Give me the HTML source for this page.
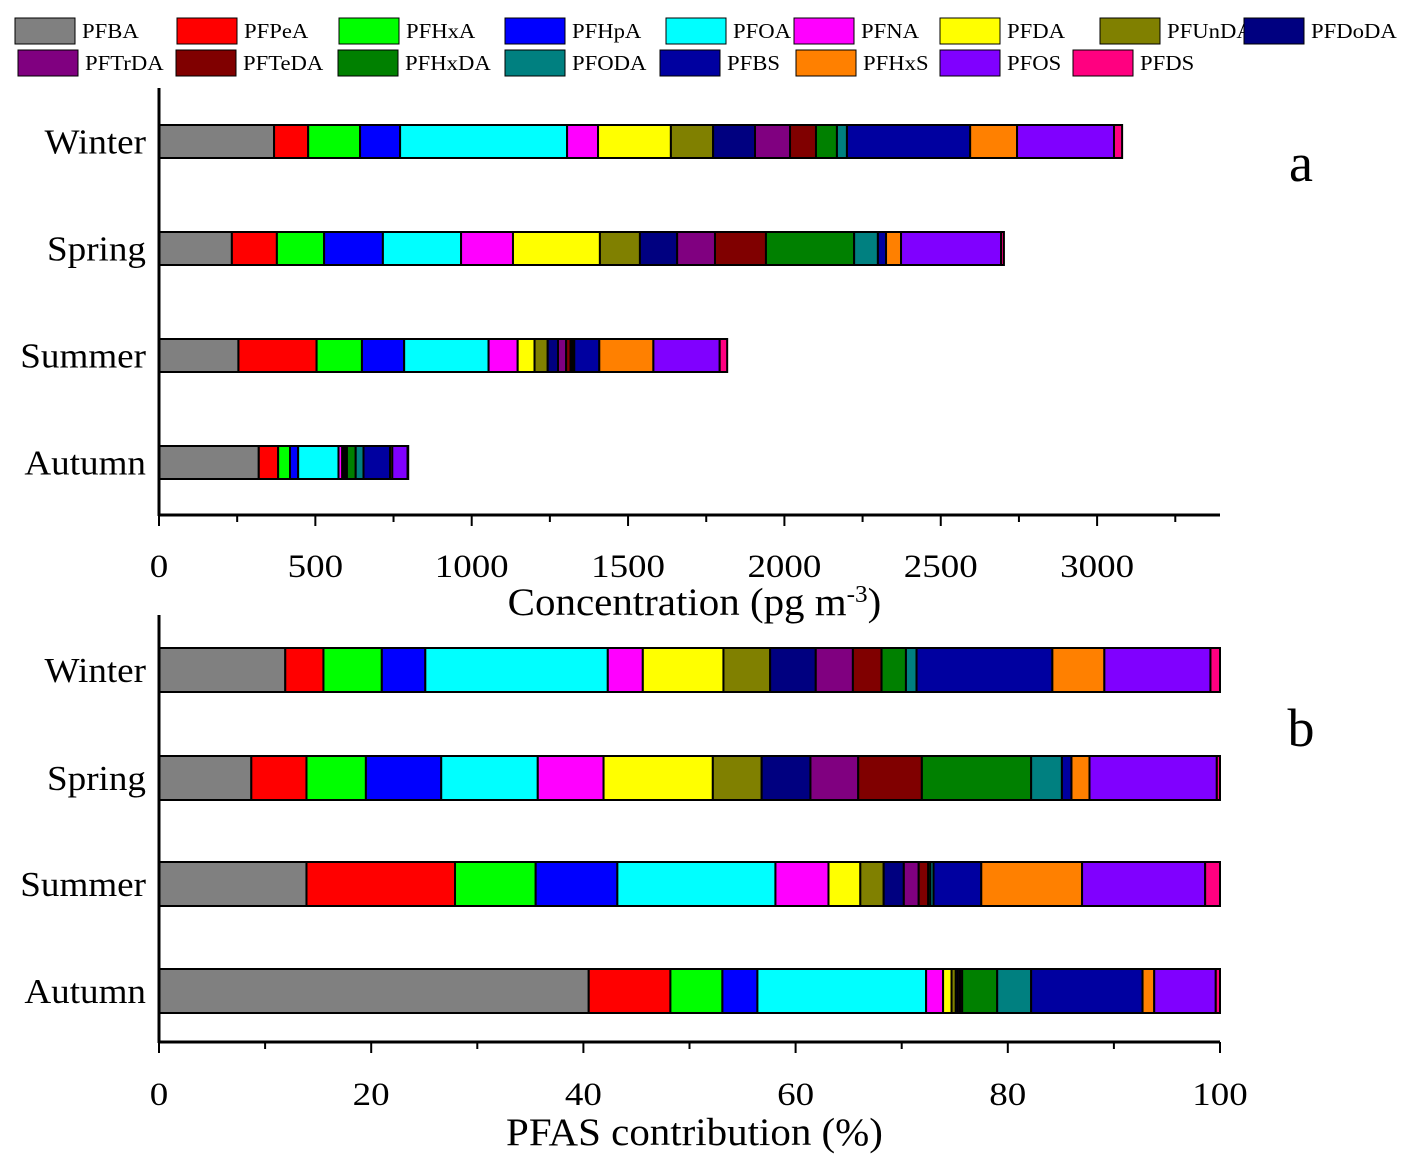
<!DOCTYPE html>
<html><head><meta charset="utf-8"><style>
body{margin:0;background:#fff}
svg text{font-family:"Liberation Serif",serif}
</style></head><body>
<svg id="c" width="1419" height="1169" xmlns="http://www.w3.org/2000/svg"></svg>
<script>
const species=["PFBA","PFPeA","PFHxA","PFHpA","PFOA","PFNA","PFDA","PFUnDA","PFDoDA","PFTrDA","PFTeDA","PFHxDA","PFODA","PFBS","PFHxS","PFOS","PFDS"];
const colors=["#808080","#ff0000","#00ff00","#0000ff","#00ffff","#ff00ff","#ffff00","#808000","#000080","#800080","#800000","#008000","#008080","#0000a0","#ff8000","#8000ff","#ff0080"];
const seasons=["Winter","Spring","Summer","Autumn"];
const concWinter=[368,109,166,128,534,99,233,135,134,112,83,67,32,394,150,310,26];
const concSpring=[233,144,151,188,250,166,278,128,119,121,163,282,76,26,48,320,9];
const concSummer=[254,250,145,135,270,93,54,42,33,26,14,6,6,80,173,212,24];
const concAutumn=[319,62,38,26,129,12,4,3,3,3,2,28,25,85,7,49,2];
const pctWinter=[11.9,3.6,5.5,4.1,17.2,3.3,7.6,4.4,4.3,3.5,2.7,2.3,1.0,12.8,4.9,10.0,0.9];
const pctSpring=[8.7,5.2,5.6,7.1,9.1,6.2,10.3,4.6,4.6,4.5,6.0,10.3,2.9,0.9,1.7,12.0,0.3];
const pctSummer=[13.9,14.0,7.6,7.7,14.9,5.0,3.0,2.2,1.9,1.4,0.9,0.2,0.3,4.5,9.5,11.6,1.4];
const pctAutumn=[40.5,7.7,4.9,3.3,15.9,1.6,0.8,0.4,0.2,0.2,0.2,3.3,3.2,10.5,1.1,5.8,0.4];
const ticksA=[0,500,1000,1500,2000,2500,3000];
const ticksB=[0,20,40,60,80,100];

const svg=document.getElementById('c');
const NS="http://www.w3.org/2000/svg";
function mk(t,a,txt){const e=document.createElementNS(NS,t);for(const k in a)e.setAttribute(k,a[k]);if(txt!==undefined)e.textContent=txt;svg.appendChild(e);return e;}
function stretch(e,f){const w=e.getComputedTextLength();e.setAttribute('textLength',(w*f).toFixed(1));e.setAttribute('lengthAdjust','spacingAndGlyphs');}

const legX1=[15,177,339,505,666,794,940,1100,1244];
const legX2=[18,176,338,505,660,796,940,1073];
species.forEach((s,i)=>{
  const row=i<9?0:1; const x=row?legX2[i-9]:legX1[i]; const y=row?50:18;
  const r=mk('rect',{x:x,y:y,width:60,height:26,fill:colors[i],stroke:'#000','stroke-width':1});
  
  
  const t=mk('text',{x:x+67,y:y+20,'font-size':21},s);
  
  
  stretch(t,1.08);
});

function panel(o){
  const {x0,x1,yTop,yBot,max,ticks,minor,data,barY,barH,lblY,title,titleY,letter,letterY,name}=o;
  const sx=v=>x0+(v/max)*(x1-x0);
  data.forEach((arr,si)=>{
    let c=0;
    arr.forEach((v,k)=>{
      const r=mk('rect',{x:sx(c),y:barY[si],width:sx(c+v)-sx(c),height:barH,fill:colors[k],stroke:'#000','stroke-width':2});
      
      
      c+=v;
    });
    const t=mk('text',{x:146,y:barY[si]+barH/2+12,'font-size':35,'text-anchor':'end'},seasons[si]);
    
    
    stretch(t,1.06);
  });
  const ya=mk('line',{x1:x0,y1:yTop,x2:x0,y2:yBot+1,stroke:'#000','stroke-width':3});
  
  const xa=mk('line',{x1:x0-1,y1:yBot,x2:x1,y2:yBot,stroke:'#000','stroke-width':3});
  
  for(let v=0;v<=max+1e-9;v+=minor){
    const major=ticks.some(t=>Math.abs(t-v)<1e-9);
    mk('line',{x1:sx(v),y1:yBot,x2:sx(v),y2:yBot+(major?11:7),stroke:'#000','stroke-width':2});
  }
  ticks.forEach(t=>{
    const e=mk('text',{x:sx(t),y:lblY,'font-size':33,'text-anchor':'middle'},String(t));
    
    stretch(e,1.12);
  });
  const tt=mk('text',{x:(x0+x1)/2+5,y:titleY,'font-size':39,'text-anchor':'middle'});
  
  tt.innerHTML=title;
  stretch(tt,1.05);
  const L=mk('text',{x:1301,y:letterY,'font-size':54,'text-anchor':'middle'},letter);
  
}
panel({x0:159,x1:1220,yTop:88,yBot:515,max:3393,ticks:ticksA,minor:250,
  data:[concWinter,concSpring,concSummer,concAutumn],barY:[125,232,339,446],barH:33,
  lblY:577,title:'Concentration (pg m<tspan dy="-13" font-size="24">-3</tspan><tspan dy="13">)</tspan>',titleY:615,letter:'a',letterY:181,name:'panel-a'});
panel({x0:159,x1:1220,yTop:615,yBot:1042,max:100,ticks:ticksB,minor:10,
  data:[pctWinter,pctSpring,pctSummer,pctAutumn],barY:[648,756,862,969],barH:44,
  lblY:1105,title:'PFAS contribution (%)',titleY:1145,letter:'b',letterY:746,name:'panel-b'});
</script>
</body></html>
